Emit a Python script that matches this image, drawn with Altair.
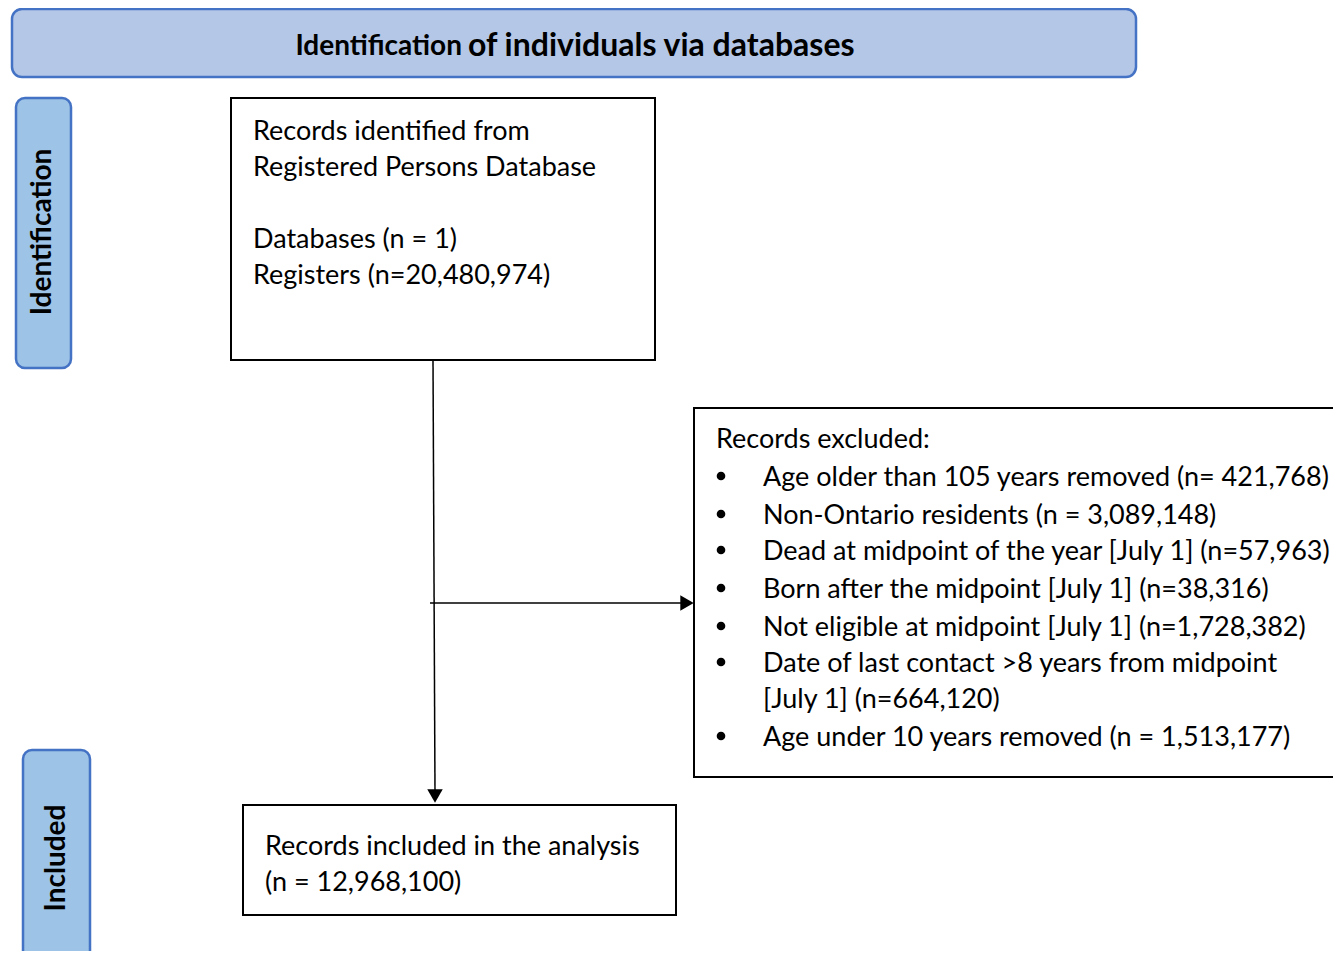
import altair as alt
import pandas as pd

FONT = "Lato"

# ---- text content ----
header_a = ["Identification"]
header_b = ["of individuals via databases"]
side_labels = ["Identification", "Included"]
box1_lines = ["Records identified from", "Registered Persons Database", "",
              "Databases (n = 1)", "Registers (n=20,480,974)"]
excl_title = ["Records excluded:"]
excl_items = ["Age older than 105  years removed (n= 421,768)",
              "Non-Ontario residents (n = 3,089,148)",
              "Dead at midpoint of the year [July 1] (n=57,963)",
              "Born after the midpoint [July 1] (n=38,316)",
              "Not eligible at midpoint [July 1] (n=1,728,382)",
              "Date of last contact >8 years from midpoint",
              "Age under 10 years removed (n = 1,513,177)"]
excl_cont = ["[July 1] (n=664,120)"]
incl_lines = ["Records included in the analysis", "(n = 12,968,100)"]

# ---- layout (diagram coordinates, pixels of the page) ----
banner = pd.DataFrame({"x": [12], "x2": [1136], "y": [9], "y2": [77]})
side = pd.DataFrame({"x": [16, 23], "x2": [71, 90], "y": [98, 750], "y2": [368, 975]})
boxes = pd.DataFrame({"x": [231, 694, 243], "x2": [655, 1360, 676],
                      "y": [98, 408, 805], "y2": [360, 777, 915]})

X = alt.Scale(domain=[8, 1333])
Y = alt.Scale(domain=[8, 951], reverse=True)

def xe(f="x"):
    return alt.X(f"{f}:Q", scale=X, axis=None)

def ye(f="y"):
    return alt.Y(f"{f}:Q", scale=Y, axis=None)

banner_l = alt.Chart(banner).mark_rect(
    fill="#B4C7E7", stroke="#4472C4", strokeWidth=2.5, cornerRadius=10
).encode(x=xe(), x2="x2:Q", y=ye(), y2="y2:Q")

side_l = alt.Chart(side).mark_rect(
    fill="#9DC3E6", stroke="#4472C4", strokeWidth=2.5, cornerRadius=9
).encode(x=xe(), x2="x2:Q", y=ye(), y2="y2:Q")

boxes_l = alt.Chart(boxes).mark_rect(
    fill="white", stroke="black", strokeWidth=2
).encode(x=xe(), x2="x2:Q", y=ye(), y2="y2:Q")

ha_df = pd.DataFrame({"x": [462], "y": [47], "t": header_a})
ha_l = alt.Chart(ha_df).mark_text(
    font=FONT, fontSize=28, fontWeight="bold", color="black", baseline="middle", align="right"
).encode(x=xe(), y=ye(), text="t:N")
hb_df = pd.DataFrame({"x": [468], "y": [46], "t": header_b})
hb_l = alt.Chart(hb_df).mark_text(
    font=FONT, fontSize=32, fontWeight="bold", color="black", baseline="middle", align="left"
).encode(x=xe(), y=ye(), text="t:N")

side_df = pd.DataFrame({"x": [43, 57], "y": [232, 858], "t": side_labels})
side_t = alt.Chart(side_df).mark_text(
    font=FONT, fontSize=28, fontWeight="bold", color="black", angle=270,
    baseline="middle", align="center"
).encode(x=xe(), y=ye(), text="t:N")

# body text
tx, ty, tt = [], [], []
for i, s in enumerate(box1_lines):
    if s:
        tx.append(253); ty.append(132 + 36 * i); tt.append(s)
tx.append(716); ty.append(440); tt.append(excl_title[0])
item_y = [478, 516, 552, 590, 628, 664, 738]
for yy, s in zip(item_y, excl_items):
    tx.append(763); ty.append(yy); tt.append(s)
tx.append(763); ty.append(700); tt.append(excl_cont[0])
for i, s in enumerate(incl_lines):
    tx.append(265); ty.append(847 + 36 * i); tt.append(s)
body_df = pd.DataFrame({"x": tx, "y": ty, "t": tt})
body_l = alt.Chart(body_df).mark_text(
    font=FONT, fontSize=27, color="black", baseline="middle", align="left"
).encode(x=xe(), y=ye(), text="t:N")

bullets = pd.DataFrame({"x": [721] * len(item_y), "y": [v - 2 for v in item_y]})
bullet_l = alt.Chart(bullets).mark_circle(size=75, color="black", opacity=1).encode(
    x=xe(), y=ye())

# connectors
lines = pd.DataFrame({"x": [433, 430], "x2": [435, 681], "y": [360, 603], "y2": [792, 603]})
lines_l = alt.Chart(lines).mark_rule(color="black", strokeWidth=1.5).encode(
    x=xe(), x2="x2:Q", y=ye(), y2="y2:Q")

heads_down = pd.DataFrame({"x": [435], "y": [796]})
hd_l = alt.Chart(heads_down).mark_point(
    shape="triangle-down", filled=True, color="black", size=240, opacity=1
).encode(x=xe(), y=ye())
heads_right = pd.DataFrame({"x": [687], "y": [603]})
hr_l = alt.Chart(heads_right).mark_point(
    shape="triangle-right", filled=True, color="black", size=240, opacity=1
).encode(x=xe(), y=ye())

chart = alt.layer(
    banner_l, side_l, boxes_l, lines_l, hd_l, hr_l, ha_l, hb_l, side_t, body_l, bullet_l
).properties(
    width=1325, height=943, padding=0, autosize=alt.AutoSizeParams(type="none")
).configure_view(stroke=None)

chart.save("out.html", embed_options={"renderer": "svg", "actions": False})
